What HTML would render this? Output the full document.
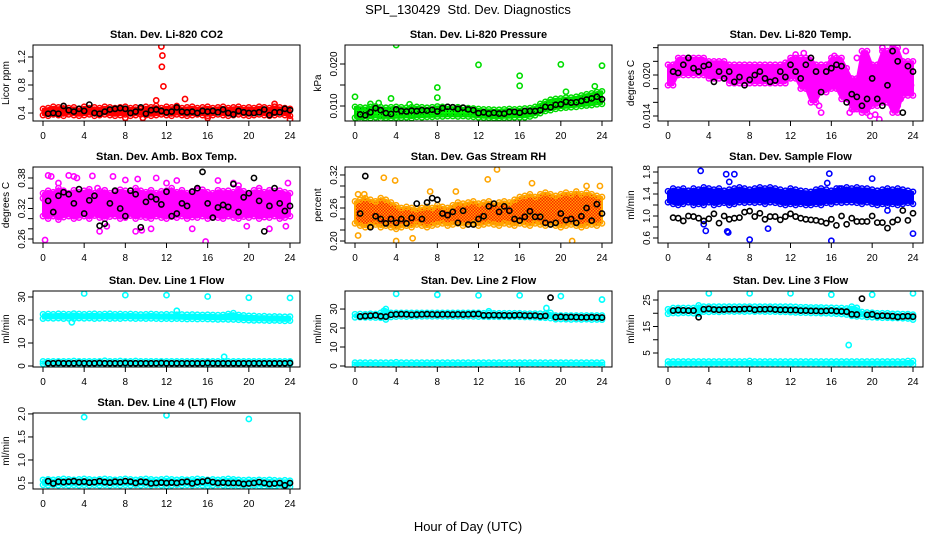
<!DOCTYPE html>
<html><head><meta charset="utf-8"><style>
html,body{margin:0;padding:0;background:#fff}
svg{display:block;font-family:"Liberation Sans",sans-serif}
</style></head><body>
<svg id="chart" width="936" height="540" viewBox="0 0 936 540">
<defs>
<pattern id="rhpat" width="3" height="3" patternUnits="userSpaceOnUse"><rect width="3" height="3" fill="#ffa500"/><rect width="1.5" height="1.5" fill="#ff2000"/><rect x="1.5" y="1.5" width="1.5" height="1.5" fill="#ff2000"/></pattern>
<pattern id="grpat" width="3" height="3" patternUnits="userSpaceOnUse"><rect width="3" height="3" fill="#00ff00"/><rect width="1" height="1" fill="#006000"/></pattern>
</defs>
<text x="468" y="14" text-anchor="middle" font-size="13">SPL_130429&#160; Std. Dev. Diagnostics</text>
<text x="468" y="531" text-anchor="middle" font-size="13">Hour of Day (UTC)</text>
</svg>
<script>
const hours=[0,0.5,1,1.5,2,2.5,3,3.5,4,4.5,5,5.5,6,6.5,7,7.5,8,8.5,9,9.5,10,10.5,11,11.5,12,12.5,13,13.5,14,14.5,15,15.5,16,16.5,17,17.5,18,18.5,19,19.5,20,20.5,21,21.5,22,22.5,23,23.5,24];
const blackHours=[0.5,1,1.5,2,2.5,3,3.5,4,4.5,5,5.5,6,6.5,7,7.5,8,8.5,9,9.5,10,10.5,11,11.5,12,12.5,13,13.5,14,14.5,15,15.5,16,16.5,17,17.5,18,18.5,19,19.5,20,20.5,21,21.5,22,22.5,23,23.5,24];
const xTicks=[0,4,8,12,16,20,24];

// CO2
const co2Hi=[0.46,0.47,0.49,0.48,0.5,0.47,0.48,0.46,0.49,0.47,0.48,0.47,0.49,0.48,0.47,0.48,0.49,0.47,0.48,0.46,0.49,0.48,0.5,0.47,0.49,0.48,0.5,0.47,0.48,0.49,0.47,0.48,0.49,0.47,0.48,0.49,0.47,0.48,0.49,0.47,0.48,0.47,0.49,0.48,0.47,0.49,0.48,0.47,0.46];
const co2Lo=[0.37,0.36,0.38,0.37,0.36,0.38,0.37,0.36,0.37,0.38,0.36,0.37,0.38,0.37,0.36,0.37,0.38,0.36,0.37,0.38,0.37,0.36,0.37,0.38,0.37,0.36,0.38,0.37,0.36,0.37,0.38,0.37,0.36,0.37,0.38,0.37,0.36,0.37,0.38,0.37,0.36,0.37,0.38,0.37,0.36,0.37,0.38,0.37,0.36];
const co2OutH=[11.5,11.6,11.55,11.7,11,13.8,22.5,8,9.7,16,24];
const co2OutV=[1.35,1.22,1.06,0.78,0.58,0.6,0.53,0.33,0.33,0.33,0.31];
const co2Black=[0.39,0.4,0.39,0.5,0.44,0.42,0.46,0.43,0.52,0.4,0.39,0.42,0.45,0.46,0.47,0.46,0.4,0.42,0.48,0.39,0.44,0.45,0.43,0.41,0.42,0.48,0.42,0.41,0.42,0.4,0.43,0.42,0.43,0.41,0.45,0.4,0.38,0.43,0.41,0.4,0.4,0.41,0.45,0.37,0.41,0.41,0.46,0.44];
// Pressure
const prHi=[0.0098,0.0097,0.0096,0.0098,0.0099,0.0097,0.0096,0.0097,0.0098,0.0097,0.0096,0.0097,0.0098,0.0097,0.0096,0.0097,0.0099,0.0098,0.0098,0.0097,0.0097,0.0096,0.0095,0.0094,0.0093,0.0092,0.0092,0.0091,0.0091,0.0092,0.0093,0.0092,0.0093,0.0094,0.0095,0.0098,0.0105,0.011,0.0115,0.0117,0.0118,0.012,0.012,0.0122,0.0125,0.0128,0.013,0.0133,0.0135];
const prLo=[0.0072,0.0068,0.0072,0.0071,0.0073,0.007,0.0072,0.0071,0.0072,0.0072,0.0073,0.0071,0.0074,0.0073,0.0074,0.0074,0.0075,0.0075,0.0076,0.0076,0.0075,0.0076,0.0075,0.0074,0.0073,0.0072,0.0072,0.0071,0.0071,0.0072,0.0072,0.0073,0.0073,0.0073,0.0075,0.0078,0.0083,0.0088,0.009,0.0093,0.0095,0.0096,0.0097,0.0098,0.01,0.0101,0.0102,0.0104,0.0105];
const prOutH=[0,0.5,3.5,4,8,8,12,16,16,20,20.5,23.3,24,1.5,2.3,5.3];
const prOutV=[0.0122,0.0066,0.0118,0.0245,0.0144,0.012,0.0198,0.0172,0.0148,0.0199,0.0134,0.0147,0.0196,0.0105,0.0107,0.0104];
const prBlack=[0.008,0.0078,0.0085,0.0095,0.009,0.0083,0.0081,0.0092,0.0088,0.0087,0.0089,0.0088,0.009,0.0089,0.0091,0.0087,0.0095,0.0098,0.0097,0.0093,0.0096,0.0092,0.009,0.0083,0.0085,0.0082,0.0084,0.0082,0.0082,0.0086,0.0086,0.0084,0.0088,0.0088,0.0088,0.009,0.0098,0.0097,0.0103,0.0104,0.011,0.0108,0.0109,0.0112,0.0115,0.0118,0.0122,0.0116];
// Li-820 temp
const tpHi=[0.0215,0.0215,0.0225,0.0225,0.0225,0.0225,0.0225,0.0225,0.022,0.022,0.022,0.022,0.0215,0.0215,0.0215,0.0215,0.0215,0.0215,0.0215,0.0215,0.0215,0.0215,0.0215,0.0218,0.0225,0.0225,0.0225,0.0225,0.0225,0.0215,0.0215,0.0215,0.0225,0.0225,0.0225,0.021,0.0195,0.0195,0.0235,0.0235,0.0215,0.0215,0.0235,0.0235,0.024,0.024,0.022,0.022,0.022];
const tpLo=[0.0185,0.0185,0.02,0.02,0.02,0.02,0.02,0.02,0.0195,0.0195,0.0195,0.0195,0.0188,0.0188,0.0188,0.0188,0.0188,0.0188,0.0188,0.0188,0.0188,0.0188,0.0188,0.0188,0.0195,0.0195,0.018,0.018,0.016,0.016,0.0175,0.0175,0.018,0.018,0.0165,0.0165,0.015,0.015,0.0145,0.0145,0.0155,0.0155,0.016,0.016,0.0145,0.0145,0.017,0.017,0.017];
const tpOutH=[18.5,19,19.3,20.3,20.7,21,22,22.5,23.3,23.8,17.8,18.2,19.8,21.5,22.8,14.8,15,16.3,13.3,12.5];
const tpOutV=[0.0225,0.0225,0.0205,0.0142,0.0135,0.024,0.0245,0.0155,0.0235,0.0185,0.0145,0.015,0.014,0.0175,0.0165,0.0155,0.0145,0.0228,0.0232,0.023];
const tpBlack=[0.0205,0.0203,0.0215,0.0225,0.021,0.0205,0.0213,0.0215,0.019,0.0205,0.0195,0.0205,0.019,0.0197,0.0185,0.0193,0.02,0.0205,0.0195,0.019,0.0192,0.0205,0.0197,0.0215,0.0205,0.0195,0.0215,0.0225,0.0205,0.0175,0.0205,0.021,0.0215,0.0213,0.016,0.0172,0.0168,0.0155,0.0165,0.0195,0.0165,0.0155,0.0185,0.0235,0.022,0.0145,0.0213,0.0205];
// Amb box temp
const abHi=[0.35,0.355,0.352,0.36,0.355,0.35,0.356,0.352,0.355,0.358,0.35,0.354,0.356,0.35,0.352,0.357,0.355,0.35,0.36,0.355,0.352,0.356,0.35,0.354,0.355,0.36,0.352,0.356,0.35,0.354,0.355,0.357,0.352,0.35,0.356,0.354,0.355,0.352,0.358,0.354,0.35,0.356,0.355,0.352,0.356,0.354,0.355,0.352,0.35];
const abLo=[0.305,0.3,0.305,0.298,0.303,0.305,0.3,0.302,0.305,0.3,0.306,0.302,0.3,0.304,0.305,0.3,0.302,0.306,0.3,0.304,0.302,0.3,0.305,0.302,0.3,0.304,0.302,0.305,0.3,0.303,0.302,0.305,0.3,0.304,0.302,0.3,0.305,0.302,0.3,0.304,0.302,0.305,0.3,0.303,0.302,0.305,0.3,0.302,0.305];
const abOutH=[0,0.5,0.8,0.2,1.5,2.5,3,3.3,4.8,5.3,5.5,6.8,8,9.2,9,9.6,11,12,13,15,15.8,14.5,17,18.5,19,19.8,21,22,23.6,23.8,10.5,6.2];
const abOutV=[0.34,0.385,0.383,0.258,0.37,0.385,0.383,0.38,0.384,0.36,0.275,0.383,0.376,0.378,0.275,0.277,0.38,0.37,0.375,0.358,0.255,0.28,0.375,0.37,0.365,0.285,0.36,0.28,0.285,0.37,0.28,0.285];
const abBlack=[0.335,0.313,0.345,0.352,0.348,0.33,0.358,0.31,0.336,0.345,0.286,0.29,0.33,0.355,0.32,0.305,0.355,0.348,0.283,0.333,0.343,0.338,0.328,0.353,0.305,0.31,0.33,0.325,0.353,0.36,0.392,0.33,0.302,0.322,0.327,0.323,0.368,0.313,0.342,0.35,0.38,0.335,0.275,0.325,0.36,0.33,0.315,0.325];
// RH
const rhHi=[0.272,0.275,0.278,0.275,0.272,0.278,0.275,0.27,0.265,0.26,0.262,0.26,0.258,0.26,0.262,0.26,0.265,0.262,0.26,0.265,0.27,0.268,0.27,0.272,0.268,0.27,0.272,0.268,0.27,0.272,0.27,0.275,0.28,0.282,0.285,0.28,0.285,0.288,0.285,0.282,0.285,0.288,0.285,0.29,0.285,0.288,0.285,0.282,0.28];
const rhLo=[0.232,0.228,0.225,0.228,0.23,0.225,0.228,0.225,0.222,0.225,0.228,0.225,0.23,0.228,0.225,0.228,0.23,0.232,0.228,0.23,0.232,0.228,0.23,0.232,0.228,0.23,0.232,0.23,0.228,0.232,0.23,0.228,0.232,0.23,0.228,0.232,0.23,0.228,0.23,0.228,0.225,0.228,0.23,0.228,0.225,0.228,0.23,0.228,0.232];
const rhOutH=[0.3,0.9,2.8,3.9,0.3,4,5.6,7.3,9.8,12.9,13.8,17.2,21.1,22.5,23.8];
const rhOutV=[0.285,0.285,0.315,0.31,0.21,0.2,0.205,0.29,0.29,0.312,0.33,0.305,0.2,0.3,0.3];
const rhBlack=[0.25,0.318,0.225,0.245,0.24,0.232,0.24,0.233,0.24,0.232,0.242,0.268,0.24,0.27,0.278,0.275,0.25,0.247,0.253,0.233,0.255,0.23,0.23,0.24,0.245,0.263,0.268,0.253,0.263,0.255,0.24,0.237,0.244,0.254,0.244,0.244,0.233,0.23,0.233,0.25,0.238,0.24,0.233,0.245,0.26,0.237,0.267,0.25];
// Sample flow
const sfHi=[1.45,1.5,1.48,1.5,1.46,1.5,1.48,1.52,1.5,1.48,1.5,1.46,1.48,1.5,1.52,1.5,1.48,1.5,1.52,1.5,1.52,1.5,1.48,1.46,1.5,1.48,1.46,1.45,1.44,1.48,1.5,1.48,1.46,1.5,1.5,1.52,1.5,1.52,1.5,1.5,1.48,1.46,1.48,1.5,1.48,1.5,1.48,1.46,1.44];
const sfLo=[1.25,1.22,1.2,1.22,1.25,1.2,1.22,1.2,1.25,1.2,1.22,1.24,1.2,1.22,1.25,1.24,1.25,1.24,1.25,1.22,1.25,1.24,1.22,1.2,1.22,1.2,1.22,1.2,1.2,1.22,1.2,1.24,1.22,1.25,1.24,1.25,1.25,1.24,1.22,1.25,1.22,1.2,1.22,1.2,1.22,1.2,1.22,1.24,1.22];
const sfOutH=[3.2,5.7,6.5,15.8,20,6,3.5,3.7,5.8,5.9,8,16,9.8,24,21.5,15.6,16.8];
const sfOutV=[1.82,1.76,1.76,1.77,1.68,1.62,0.85,0.73,0.72,0.7,0.57,0.55,0.77,0.68,1.1,1.6,1.5];
const sfBlack=[0.97,0.96,0.91,1.0,0.99,0.96,0.91,0.95,1.04,0.87,1.0,0.94,0.96,0.97,1.07,1.09,0.99,1.05,0.94,0.99,0.99,0.93,0.99,1.04,0.99,0.96,0.94,0.93,0.92,0.9,0.87,0.94,0.83,1.0,0.85,0.96,0.9,0.9,0.9,1.0,0.88,0.88,0.78,0.89,0.93,1.1,0.92,1.05];
// Line 1
const l1Hi=[22.5,22.6,22.5,22.7,22.6,22.5,22.8,22.6,22.5,22.6,22.7,22.5,22.6,22.7,22.5,22.6,22.5,22.6,22.5,22.4,22.5,22.6,22.5,22.4,22.5,22.4,22.3,22.4,22.3,22.4,22.3,22.2,22.3,22.2,22.1,22.2,22.6,23,22.2,22,21.8,21.8,21.6,21.7,21.5,21.6,21.5,21.4,21.5];
const l1Lo=[20.6,20.8,20.7,20.8,20.6,20.7,20.6,20.8,20.7,20.8,20.6,20.7,20.8,20.6,20.7,20.6,20.8,20.7,20.6,20.7,20.6,20.7,20.6,20.5,20.6,20.5,20.6,20.5,20.4,20.5,20.4,20.5,20.4,20.3,20.2,20.3,20.2,20.2,20.1,20.0,19.9,19.8,19.9,19.8,19.7,19.8,19.7,19.6,19.7];
const l1LowHi=[2,2,2,2,2,2,2.2,2,2,2,2,2,2.3,2,2,2.2,2,2,2.2,2,2,2,2,2,2,2,2,2,2,2,2,2,2,2,2,2,2,2,2,2,2,2,2,2,2,2,2,2,2];
const l1LowLo=[1,1,1,1,1,1,1,1,1,1,1,1,1,1,1,1,1,1,1,1,1,1,1,1,1,1,1,1,1,1,1,1,1,1,1,1,1,1,1,1,1,1,1,1,1,1,1,1,1];
const l1OutH=[4,8,12,16,20,24,2.8,13,17.6];
const l1OutV=[31.5,30.8,30.8,30.2,29.7,29.6,19,24,4];
const l1Black=[1.2,1.2,1.3,1.2,1.2,1.2,1.3,1.2,1.2,1.2,1.3,1.2,1.2,1.2,1.2,1.3,1.2,1.2,1.2,1.2,1.2,1.2,1.3,1.2,1.2,1.2,1.2,1.2,1.2,1.2,1.2,1.3,1.2,1.2,1.2,1.2,1.2,1.2,1.2,1.2,1.2,1.2,1.2,1.2,1.2,1.2,1.2,1.3];
// Line 2
const l2Hi=[27.3,27.4,27.3,27.5,27.4,28,30,28,28,28,28,28,28,28,28,28,28,28,28,28,28,28,28,28,28,27.8,27.8,27.8,27.8,27.8,27.8,27.8,27.8,27.6,27.6,27.6,27.6,27.6,28,26.6,26.6,26.6,26.6,26.6,26.6,26.6,26.6,26.6,26.6];
const l2Lo=[25.6,25.7,25.6,25.6,25.5,25.4,24.5,25.8,26,26.1,26,26.1,26.2,26.1,26.2,26.1,26.2,26.1,26.2,26.1,26.2,26.1,26.2,26.1,26,26,25.9,26,25.9,26,25.9,26,25.9,25.8,25.8,25.7,25.5,25.4,25.2,24.6,24.7,24.6,24.5,24.6,24.5,24.6,24.4,24.5,24.4];
const l2LowHi=[1.8,1.8,1.8,1.8,1.8,1.8,1.8,1.8,2,1.8,1.8,1.8,1.8,1.8,1.8,1.8,1.8,1.8,1.8,1.8,1.8,1.8,1.8,1.8,1.8,1.8,1.8,1.8,1.8,1.8,1.8,1.8,1.8,1.8,1.8,1.8,1.8,1.8,1.8,1.8,1.8,1.8,1.8,1.8,1.8,1.8,1.8,1.8,1.8];
const l2LowLo=[0.6,0.6,0.6,0.6,0.6,0.6,0.6,0.6,0.6,0.6,0.6,0.6,0.6,0.6,0.6,0.6,0.6,0.6,0.6,0.6,0.6,0.6,0.6,0.6,0.6,0.6,0.6,0.6,0.6,0.6,0.6,0.6,0.6,0.6,0.6,0.6,0.6,0.6,0.6,0.6,0.6,0.6,0.6,0.6,0.6,0.6,0.6,0.6,0.6];
const l2OutH=[4,8,12,16,20,24,2.8,18.6,13];
const l2OutV=[38,37.5,37.2,37.2,36.8,35,29,30.5,28.8];
const l2Black=[26.1,26.3,26.5,26.7,26.2,26,27,27.2,27.3,27.2,27,27.1,27.2,27.3,27.2,27.1,27.2,27.2,27.1,27.2,27.1,27.2,27.3,27.4,26.7,26.7,26.8,26.7,26.7,26.6,26.7,26.8,26.6,26.5,26.6,26.2,26.4,36,25.7,25.9,25.7,25.8,25.7,25.6,25.6,25.7,25.6,25.5];
// Line 3
const l3Hi=[21.5,22,22,22,22,22,23,22.5,22.5,22.5,22.5,22.5,22.5,22.5,22.5,22.5,22.5,22.5,22.5,22.5,22.5,22.5,22.5,22.5,22.5,22.4,22.3,22.3,22.2,22.2,22.2,22.1,22.1,22,22,21.8,22.5,22,20.5,20.3,20.2,20,20,20,19.8,19.8,19.7,19.7,19.5];
const l3Lo=[19.8,20.1,20,20.2,20.1,20,19.8,20.6,20.5,20.6,20.5,20.6,20.7,20.6,20.7,20.6,20.7,20.6,20.7,20.6,20.6,20.6,20.5,20.5,20.4,20.3,20.2,20.2,20.1,20.1,20,20,19.9,19.8,19.7,19.5,19,18.8,18.8,18.6,18.5,18.4,18.3,18.3,18.2,18.2,18.1,18,17.6];
const l3LowHi=[1.8,1.8,1.8,1.8,1.8,1.8,1.8,1.8,1.8,1.8,1.8,1.8,1.8,1.8,1.8,1.8,2,1.8,1.8,1.8,1.8,1.8,1.8,1.8,1.8,1.8,1.8,1.8,1.8,1.8,1.8,1.8,1.8,1.8,1.8,1.8,1.8,1.8,1.8,1.8,1.8,1.8,1.8,1.8,1.8,1.8,1.8,2,2];
const l3LowLo=[0.6,0.6,0.6,0.6,0.6,0.6,0.6,0.6,0.6,0.6,0.6,0.6,0.6,0.6,0.6,0.6,0.6,0.6,0.6,0.6,0.6,0.6,0.6,0.6,0.6,0.6,0.6,0.6,0.6,0.6,0.6,0.6,0.6,0.6,0.6,0.6,0.6,0.6,0.6,0.6,0.6,0.6,0.6,0.6,0.6,0.6,0.6,0.6,0.6];
const l3OutH=[4,8,12,16,20,24,17.7,18.5];
const l3OutV=[27.5,27.5,27.5,27,27,27.5,8,22];
const l3Black=[21,21.2,21.1,21,21,18.5,21.5,21.7,21.4,21.3,21.4,21.5,21.5,21.5,21.6,21.7,21.3,21.5,21.5,21.6,21.4,21.3,21.3,21.2,21.2,21,21,20.9,20.9,20.8,20.9,21,20.8,20.7,20.6,19.6,19.5,25.5,19.4,19.6,19,19.1,19,18.9,18.6,18.8,18.9,18.7];
// Line 4
const l4Hi=[0.57,0.58,0.57,0.58,0.59,0.58,0.57,0.58,0.59,0.58,0.57,0.58,0.59,0.58,0.57,0.58,0.59,0.58,0.57,0.58,0.59,0.58,0.57,0.58,0.59,0.58,0.57,0.58,0.57,0.58,0.59,0.58,0.57,0.58,0.57,0.58,0.59,0.58,0.57,0.56,0.57,0.56,0.57,0.56,0.57,0.56,0.55,0.56,0.55];
const l4Lo=[0.46,0.45,0.46,0.45,0.46,0.45,0.46,0.45,0.46,0.45,0.46,0.45,0.46,0.45,0.46,0.45,0.46,0.45,0.46,0.45,0.46,0.45,0.46,0.45,0.44,0.45,0.46,0.45,0.46,0.45,0.46,0.45,0.44,0.45,0.46,0.45,0.44,0.45,0.44,0.45,0.44,0.45,0.44,0.43,0.44,0.43,0.42,0.43,0.42];
const l4OutH=[4,12,20];
const l4OutV=[1.93,1.97,1.89];
const l4Black=[0.54,0.49,0.53,0.52,0.53,0.54,0.52,0.53,0.51,0.52,0.54,0.52,0.51,0.53,0.52,0.54,0.53,0.5,0.53,0.52,0.49,0.5,0.51,0.5,0.51,0.5,0.52,0.53,0.49,0.52,0.53,0.55,0.52,0.5,0.51,0.5,0.5,0.5,0.48,0.49,0.5,0.52,0.5,0.48,0.49,0.5,0.45,0.5];

const colL=[33,345,658], colR=[300,612,923], rowT=[45,167,291,413], rowB=[121,243,367,489];
const svg=document.getElementById('chart');
const NS='http://www.w3.org/2000/svg';
function mk(tag,attrs,parent){const e=document.createElementNS(NS,tag);for(const k in attrs)e.setAttribute(k,attrs[k]);(parent||svg).appendChild(e);return e;}

const panels=[
 {c:0,r:0,title:'Stan. Dev. Li-820 CO2',ylab:'Licor ppm',ymin:0.286,ymax:1.371,ticks:[0.4,0.6,0.8,1.0,1.2],labels:[0.4,0.8,1.2],fmt:1,bands:[[co2Hi,co2Lo,'#ff0000','#ff0000']],out:[co2OutH,co2OutV,'#ff0000'],black:co2Black},
 {c:1,r:0,title:'Stan. Dev. Li-820 Pressure',ylab:'kPa',ymin:0.00643,ymax:0.02452,ticks:[0.010,0.015,0.020],labels:[0.010,0.020],fmt:3,bands:[[prHi,prLo,'url(#grpat)','#00dd00']],out:[prOutH,prOutV,'#00dd00'],black:prBlack},
 {c:2,r:0,title:'Stan. Dev. Li-820 Temp.',ylab:'degrees C',ymin:0.01327,ymax:0.02439,ticks:[0.014,0.016,0.018,0.020,0.022,0.024],labels:[0.014,0.020],fmt:3,bands:[[tpHi,tpLo,'#ff00ff','#ff00ff']],out:[tpOutH,tpOutV,'#ff00ff'],black:tpBlack},
 {c:0,r:1,title:'Stan. Dev. Amb. Box Temp.',ylab:'degrees C',ymin:0.2521,ymax:0.4016,ticks:[0.26,0.28,0.30,0.32,0.34,0.36,0.38],labels:[0.26,0.32,0.38],fmt:2,bands:[[abHi,abLo,'#ff00ff','#ff00ff']],out:[abOutH,abOutV,'#ff00ff'],black:abBlack},
 {c:1,r:1,title:'Stan. Dev. Gas Stream RH',ylab:'percent',ymin:0.1964,ymax:0.3345,ticks:[0.20,0.22,0.24,0.26,0.28,0.30,0.32],labels:[0.20,0.26,0.32],fmt:2,bands:[[rhHi,rhLo,'url(#rhpat)','#ffa500']],out:[rhOutH,rhOutV,'#ffa500'],black:rhBlack},
 {c:2,r:1,title:'Stan. Dev. Sample Flow',ylab:'ml/min',ymin:0.509,ymax:1.891,ticks:[0.6,0.8,1.0,1.2,1.4,1.6,1.8],labels:[0.6,1.0,1.4,1.8],fmt:1,bands:[[sfHi,sfLo,'#0000ff','#0000ff']],out:[sfOutH,sfOutV,'#0000ff'],black:sfBlack},
 {c:0,r:2,title:'Stan. Dev. Line 1 Flow',ylab:'ml/min',ymin:-0.43,ymax:32.6,ticks:[0,10,20,30],labels:[0,10,20,30],fmt:0,bands:[[l1Hi,l1Lo,'#00ffff','#00ffff'],[l1LowHi,l1LowLo,'#00ffff','#00ffff']],out:[l1OutH,l1OutV,'#00ffff'],black:l1Black},
 {c:1,r:2,title:'Stan. Dev. Line 2 Flow',ylab:'ml/min',ymin:-0.53,ymax:39.5,ticks:[0,10,20,30],labels:[0,10,20,30],fmt:0,bands:[[l2Hi,l2Lo,'#00ffff','#00ffff'],[l2LowHi,l2LowLo,'#00ffff','#00ffff']],out:[l2OutH,l2OutV,'#00ffff'],black:l2Black},
 {c:2,r:2,title:'Stan. Dev. Line 3 Flow',ylab:'ml/min',ymin:-0.28,ymax:28.4,ticks:[5,10,15,20,25],labels:[5,15,25],fmt:0,bands:[[l3Hi,l3Lo,'#00ffff','#00ffff'],[l3LowHi,l3LowLo,'#00ffff','#00ffff']],out:[l3OutH,l3OutV,'#00ffff'],black:l3Black},
 {c:0,r:3,title:'Stan. Dev. Line 4 (LT) Flow',ylab:'ml/min',ymin:0.37,ymax:2.02,ticks:[0.5,1.0,1.5,2.0],labels:[0.5,1.0,1.5,2.0],fmt:1,bands:[[l4Hi,l4Lo,'#00ffff','#00ffff']],out:[l4OutH,l4OutV,'#00ffff'],black:l4Black}
];

panels.forEach((p,i)=>{
  const L=colL[p.c],R=colR[p.c],T=rowT[p.r],B=rowB[p.r];
  const x0=L+10,x1=R-10;
  const X=h=>x0+(x1-x0)*h/24;
  const Y=v=>B-(B-T)*(v-p.ymin)/(p.ymax-p.ymin);
  const g=mk('g',{});
  
  
  const clip=mk('clipPath',{id:'clip'+i},g);
  mk('rect',{x:L,y:T,width:R-L,height:B-T},clip);
  const t=mk('text',{x:(L+R)/2,y:T-7,'text-anchor':'middle','font-size':'11','font-weight':'bold'},g);
  t.textContent=p.title;
  
  
  const yl=mk('text',{x:L-24,y:(T+B)/2,'text-anchor':'middle','font-size':'10',transform:`rotate(-90 ${L-24} ${(T+B)/2})`},g);
  yl.textContent=p.ylab;
  
  
  const marks=mk('g',{'clip-path':`url(#clip${i})`},g);
  p.bands.forEach(b=>{
    const [hi,lo,fill,stroke]=b;
    let d='M'+hours.map((h,k)=>X(h).toFixed(1)+','+Y(hi[k]).toFixed(1)).join('L');
    d+='L'+hours.slice().reverse().map((h,k)=>X(h).toFixed(1)+','+Y(lo[hours.length-1-k]).toFixed(1)).join('L')+'Z';
    const band=mk('path',{d:d,fill:fill,stroke:stroke,'stroke-width':'2','stroke-linejoin':'round'},marks);
    
    
    [hi,lo].forEach(arr=>hours.forEach((h,k)=>{
      const c=mk('circle',{cx:X(h),cy:Y(arr[k]),r:2.6,fill:'none',stroke:stroke,'stroke-width':1.5},marks);
      
      
    }));
  });
  const [oh,ov,oc]=p.out;
  oh.forEach((h,k)=>{
    const c=mk('circle',{cx:X(h),cy:Y(ov[k]),r:2.6,fill:'none',stroke:oc,'stroke-width':1.6},marks);
    
    
  });
  p.black.forEach((v,k)=>{
    const c=mk('circle',{cx:X(blackHours[k]),cy:Y(v),r:2.6,fill:'none',stroke:'#000','stroke-width':1.6},marks);
    
    
  });
  const box=mk('rect',{x:L,y:T,width:R-L,height:B-T,fill:'none',stroke:'#000','stroke-width':1},g);
  
  
  xTicks.forEach(h=>{
    mk('line',{x1:X(h),x2:X(h),y1:B,y2:B+5,stroke:'#000'},g);
    const tx=mk('text',{x:X(h),y:B+18,'text-anchor':'middle','font-size':'10'},g);
    tx.textContent=h;
    
    
  });
  p.ticks.forEach(v=>{
    mk('line',{x1:L-5,x2:L,y1:Y(v),y2:Y(v),stroke:'#000'},g);
  });
  p.labels.forEach(v=>{
    const lx=L-8,ly=Y(v);
    const tx=mk('text',{x:lx,y:ly,'text-anchor':'middle','font-size':'10',transform:`rotate(-90 ${lx} ${ly})`},g);
    tx.textContent=v.toFixed(p.fmt);
    
    
  });
});
</script>
</body></html>
